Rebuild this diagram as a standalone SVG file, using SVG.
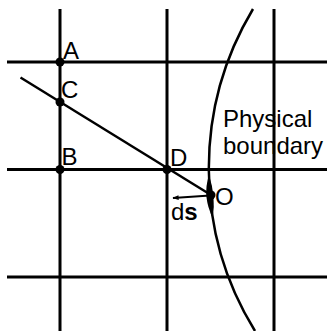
<svg xmlns="http://www.w3.org/2000/svg" width="328" height="331" viewBox="0 0 328 331">
<defs>
<style>
.grid{stroke:#000;stroke-width:3;fill:none}
.ln{stroke:#000;stroke-width:2.5;fill:none}
.dot{fill:#000}
.lbl{font-family:"Liberation Sans",Arial,sans-serif;font-size:24px;fill:#000}
</style>
<marker id="ah" viewBox="0 0 10 8" refX="9" refY="4" markerWidth="8" markerHeight="5" markerUnits="userSpaceOnUse" orient="auto">
<path d="M0,0 L10,4 L0,8 Z" fill="#000"/>
</marker>
</defs>
<rect width="328" height="331" fill="#fff"/>
<g id="grid">
<line class="grid" x1="7" y1="62" x2="327" y2="62"/>
<line class="grid" x1="7" y1="169.5" x2="327" y2="169.5"/>
<line class="grid" x1="7" y1="277" x2="327" y2="277"/>
<line class="grid" x1="60" y1="9" x2="60" y2="331"/>
<line class="grid" x1="167" y1="9" x2="167" y2="331"/>
<line class="grid" x1="274" y1="9" x2="274" y2="331"/>
</g>
<g id="boundary">
<path class="ln" d="M253,9 A309.5,309.5 0 0 0 255,331"/>
<path d="M209,175 Q202,196.5 212.8,218 Q216,196.5 209,175 Z" fill="#000"/>
<text class="lbl" x="223" y="126.5">Physical</text>
<text class="lbl" x="223" y="154">boundary</text>
</g>
<g id="connectors">
<line class="ln" x1="20.5" y1="77.5" x2="211" y2="195"/>
<line stroke="#000" stroke-width="2" x1="210" y1="195.5" x2="173" y2="198" marker-end="url(#ah)"/>
</g>
<g id="A"><circle class="dot" cx="60" cy="62" r="4.5"/><text class="lbl" x="63" y="59">A</text></g>
<g id="C"><circle class="dot" cx="60" cy="102" r="4.5"/><text class="lbl" x="61" y="98">C</text></g>
<g id="B"><circle class="dot" cx="60" cy="169.5" r="4.5"/><text class="lbl" x="61.5" y="165">B</text></g>
<g id="D"><circle class="dot" cx="167" cy="169.5" r="4.5"/><text class="lbl" x="170" y="166">D</text></g>
<g id="O"><circle class="dot" cx="211" cy="195" r="4.5"/><text class="lbl" x="215" y="205">O</text></g>
<g id="ds"><text class="lbl" x="171" y="220">d<tspan font-weight="bold">s</tspan></text></g>
</svg>
